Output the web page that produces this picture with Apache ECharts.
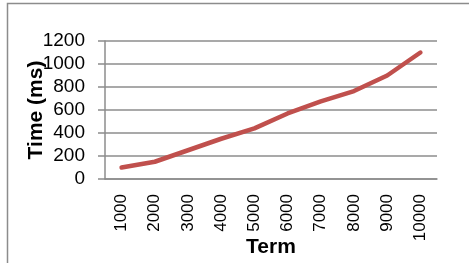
<!DOCTYPE html>
<html>
<head>
<meta charset="utf-8">
<script src="https://cdn.jsdelivr.net/npm/echarts@6/dist/echarts.min.js"></script>
<style>
  html, body { margin: 0; padding: 0; background: #fff; }
  #box { width: 469px; height: 263px; }
</style>
</head>
<body>
<div id="box"></div>
<script>
var terms = ['1000', '2000', '3000', '4000', '5000', '6000', '7000', '8000', '9000', '10000']
var times = [100, 150, 250, 350, 440, 570, 675, 765, 900, 1100]

var Chart = echarts.init(document.getElementById('box'))
var font = 'Liberation Sans'
var option = {
    animation: false,
    graphic: [{
        type: 'rect',
        shape: { x: 7.5, y: 3.5, width: 600, height: 400 },
        style: { fill: 'none', stroke: '#8c8c8c', lineWidth: 1.5 },
        silent: true
    }],
    grid: {
        left: 105,
        right: 32,
        top: 41,
        bottom: 84,
        containLabel: false,
        outerBoundsMode: 'none'
    },
    xAxis: {
        type: 'category',
        data: terms,
        boundaryGap: true,
        name: 'Term',
        nameLocation: 'middle',
        nameGap: 58,
        nameMoveOverlap: false,
        nameTextStyle: { fontFamily: font, fontSize: 21, fontWeight: 'bold', color: '#000' },
        axisLine: { show: true, lineStyle: { color: '#8c8c8c', width: 1.5 } },
        axisTick: { show: false },
        axisLabel: {
            rotate: 90,
            interval: 0,
            margin: 15,
            fontFamily: font,
            fontSize: 17,
            color: '#000'
        }
    },
    yAxis: {
        type: 'value',
        min: 0,
        max: 1200,
        interval: 200,
        name: 'Time (ms)',
        nameLocation: 'middle',
        nameGap: 58,
        nameMoveOverlap: false,
        nameTextStyle: { fontFamily: font, fontSize: 21, fontWeight: 'bold', color: '#000' },
        axisLine: { show: true, lineStyle: { color: '#8c8c8c', width: 1.5 } },
        axisTick: { show: true, inside: false, length: 7, lineStyle: { color: '#8c8c8c', width: 1.5 } },
        splitLine: { show: true, lineStyle: { color: '#8c8c8c', width: 1.5 } },
        axisLabel: {
            margin: 20,
            fontFamily: font,
            fontSize: 19,
            color: '#000',
            formatter: function (v) { return String(v) }
        }
    },
    series: [{
        type: 'line',
        data: times,
        showSymbol: false,
        lineStyle: { color: '#C0504D', width: 4.5, cap: 'round', join: 'round' }
    }]
}
Chart.setOption(option)
</script>
</body>
</html>
